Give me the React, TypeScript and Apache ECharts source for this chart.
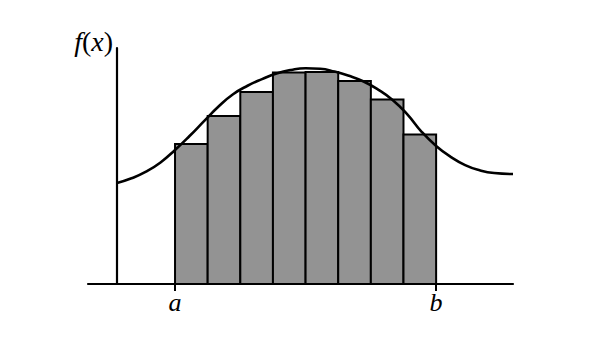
import React, { useEffect, useRef } from "react";
import * as echarts from "echarts";

// x positions in axis units (y-axis at x = 0)
const aValue = 2;
const bValue = 11;
const tickLabels = ["a", "b"];

// Riemann-sum bar heights (8 equal-width bars between a and b)
const barHeights = [5.93, 7.12, 8.14, 8.96, 8.98, 8.6, 7.82, 6.33];

// Curve f(x) samples
const curveX = [0, 0.5, 1, 1.5, 2, 2.5, 3, 3.5, 4, 4.5, 5, 5.5, 6, 6.5, 7, 7.5, 8, 8.5, 9, 9.5, 10, 10.5, 11, 11.5, 12, 12.5, 13, 13.65];
const curveY = [4.28, 4.48, 4.76, 5.15, 5.68, 6.27, 6.9, 7.52, 8.04, 8.4, 8.68, 8.92, 9.07, 9.14, 9.12, 9.0, 8.82, 8.58, 8.24, 7.8, 7.2, 6.45, 5.85, 5.39, 5.04, 4.82, 4.7, 4.66];

export default function App() {
  const ref = useRef<HTMLDivElement>(null);
  useEffect(() => {
    if (!ref.current) return;
    const chart = echarts.init(ref.current, null, { renderer: "svg" });
    const n = barHeights.length;
    const w = (bValue - aValue) / n;
    const barData = barHeights.map((h, i) => [aValue + i * w, aValue + (i + 1) * w, h]);
    const curveData = curveX.map((x, i) => [x, curveY[i]]);
    const font = "'Liberation Serif', 'DejaVu Serif', serif";
    chart.setOption({
      animation: false,
      grid: { left: 88, right: 87, top: 48, bottom: 76 },
      xAxis: {
        type: "value",
        min: -1,
        max: 13.65,
        splitLine: { show: false },
        axisLine: { show: true, onZero: false, lineStyle: { color: "#000", width: 2.2 } },
        axisTick: {
          show: true,
          customValues: [aValue, bValue],
          length: 7,
          lineStyle: { color: "#000", width: 2 },
        },
        axisLabel: {
          show: true,
          customValues: [aValue, bValue],
          formatter: (v: number) => (v === aValue ? tickLabels[0] : tickLabels[1]),
          fontFamily: font,
          fontStyle: "italic",
          fontSize: 26,
          color: "#000",
          margin: 5,
        },
      },
      yAxis: {
        type: "value",
        min: 0,
        max: 10,
        name: "{i|f}{r|(}{i|x}{r|)}",
        nameLocation: "end",
        nameGap: 7,
        nameTextStyle: {
          color: "#000",
          align: "right",
          verticalAlign: "middle",
          padding: [0, 4, 0, 0],
          rich: {
            i: { fontFamily: font, fontStyle: "italic", fontSize: 28, color: "#000" },
            r: { fontFamily: font, fontSize: 28, color: "#000" },
          },
        },
        splitLine: { show: false },
        axisTick: { show: false },
        axisLabel: { show: false },
        axisLine: { show: true, onZero: true, lineStyle: { color: "#000", width: 2.2 } },
      },
      series: [
        {
          type: "custom",
          data: barData,
          encode: { x: [0, 1], y: 2 },
          renderItem: (params: any, api: any) => {
            const p0 = api.coord([api.value(0), 0]);
            const p1 = api.coord([api.value(1), api.value(2)]);
            return {
              type: "rect",
              shape: { x: p0[0], y: p1[1], width: p1[0] - p0[0], height: p0[1] - p1[1] },
              style: { fill: "#939393", stroke: "#000", lineWidth: 2 },
            };
          },
          z: 2,
        },
        {
          type: "line",
          data: curveData,
          smooth: 0.5,
          showSymbol: false,
          lineStyle: { color: "#000", width: 2.6 },
          z: 3,
        },
      ],
    });
    return () => chart.dispose();
  }, []);
  return <div ref={ref} style={{ width: 600, height: 360, margin: -8 }} />;
}
